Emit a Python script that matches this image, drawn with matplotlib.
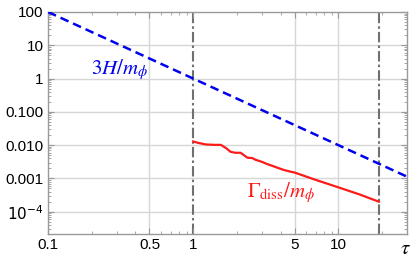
import matplotlib
matplotlib.use("Agg")
import matplotlib.pyplot as plt
from matplotlib.ticker import LogLocator, NullFormatter

plt.rcParams['font.family'] = ['Liberation Sans', 'DejaVu Sans']
plt.rcParams['mathtext.fontset'] = 'stix'

# 3H/m_phi (blue dashed)
tau_h = [0.1, 1.0, 10.0, 29.7]
hubble = [100.0, 1.0, 0.01, 0.00113]

# Gamma_diss/m_phi (red)
tau_g = [1.0, 1.08, 1.22, 1.40, 1.55, 1.68, 1.81, 1.95, 2.12, 2.25, 2.36, 2.55,
         2.70, 2.82, 3.0, 3.23, 3.5, 3.8, 4.2, 4.67, 5.0, 7.0, 10.0, 14.0, 19.0]
gamma = [0.0129, 0.0117, 0.0105, 0.0102, 0.0102, 0.0082, 0.0063, 0.0059, 0.0059,
         0.0049, 0.0042, 0.0041, 0.0036, 0.0034, 0.0031, 0.0027, 0.0024, 0.0021,
         0.0018, 0.0016, 0.0015, 0.00090, 0.00054, 0.00033, 0.00020]

vlines = [1.0, 19.0]

xticks = [0.1, 0.5, 1, 5, 10]
xlabels = ['0.1', '0.5', '1', '5', '10']
yticks = [100, 10, 1, 0.1, 0.01, 0.001, 1e-4]
ylabels = ['100', '10', '1', '0.100', '0.010', '0.001', r'$10^{-4}$']

fig = plt.figure(figsize=(4.19, 2.59), dpi=100)
ax = fig.add_axes([0.1146, 0.0965, 0.8568, 0.8572])
ax.set_xscale('log')
ax.set_yscale('log')
ax.set_xlim(0.1, 29.7)
ax.set_ylim(2.14e-5, 100)

for v in [0.5, 5, 10]:
    ax.axvline(v, color='#d6d6d6', lw=1, zorder=0)
for v in yticks[1:]:
    ax.axhline(v, color='#d6d6d6', lw=1, zorder=0)

for v in vlines:
    ax.axvline(v, color='#707070', lw=1.5, ls=(0, (5, 1.5, 1.2, 1.5)), zorder=1)

ax.plot(tau_h, hubble, color='#0000ee', lw=1.8, ls=(0, (3.5, 2)), zorder=3)
ax.plot(tau_g, gamma, color='#ff1a1a', lw=1.6, zorder=3)

ax.set_xticks(xticks)
ax.set_xticklabels(xlabels)
ax.set_yticks(yticks)
ax.set_yticklabels(ylabels)
ax.get_yticklabels()[-1].set_math_fontfamily('dejavusans')
ax.xaxis.set_minor_locator(LogLocator(base=10, subs=range(2, 10), numticks=20))
ax.yaxis.set_minor_locator(LogLocator(base=10, subs=range(2, 10), numticks=20))
ax.xaxis.set_minor_formatter(NullFormatter())
ax.yaxis.set_minor_formatter(NullFormatter())
ax.tick_params(which='both', direction='in', top=True, right=True,
               color='#999999', labelsize=11, pad=3)
ax.tick_params(which='major', length=4, width=0.8)
ax.tick_params(which='minor', length=2, width=0.6)
for s in ax.spines.values():
    s.set_color('#999999')
    s.set_linewidth(1)

ax.text(0.198, 1.3, r'$3H/m_\phi$', color='#0000ee', fontsize=15,
        ha='left', va='baseline')
ax.text(2.35, 2.7e-4, r'$\Gamma_{\rm diss}/m_\phi$', color='#ff1a1a',
        fontsize=15, ha='left', va='baseline')
fig.text(0.967, 0.04, r'$\tau$', fontsize=15, ha='center', va='center')

fig.savefig('out.png', dpi=100)
